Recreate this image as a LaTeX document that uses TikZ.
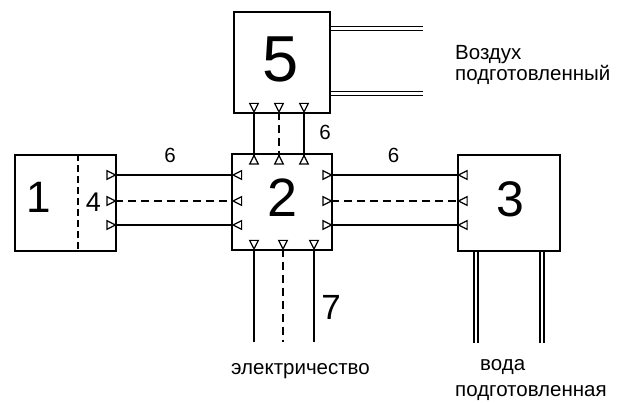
\documentclass[tikz,border=0pt]{standalone}
\usepackage{fontspec}
\setmainfont{Liberation Sans}
\usetikzlibrary{calc}
\begin{document}
\begin{tikzpicture}[x=1pt,y=-1pt,
  box/.style={draw, line width=1.8pt, inner sep=0pt},
  wire/.style={line width=1.8pt},
  dwire/.style={line width=1.8pt, dash pattern=on 8pt off 5pt},
  pipe/.style={double, double distance=2.4pt, line width=1.6pt},
  txt/.style={inner sep=0pt, font=\fontsize{20.5}{24}\selectfont},
  num/.style={inner sep=0pt, anchor=base},
  port/.pic={\draw[line width=1.2pt, fill=white, line join=miter] (0,0) -- (-8.5,4.3) -- (-8.5,-4.3) -- cycle;}]
\useasboundingbox[fill=white] (0,0) rectangle (619,403);

% units
\node[box, minimum width=101pt, minimum height=96pt] (b1) at (65.5,203) {};
\node[box, minimum width=100pt, minimum height=96pt] (b2) at (282,202) {};
\node[box, minimum width=102pt, minimum height=96pt] (b3) at (509,203) {};
\node[box, minimum width=96pt, minimum height=101pt] (b5) at (282,62.5) {};

% unit numbers
\node[num, font=\fontsize{44}{44}\selectfont] (n1) at (39,213) {1};
\node[num, font=\fontsize{54}{54}\selectfont] (n2) at (282.5,217) {2};
\node[num, font=\fontsize{50}{50}\selectfont] (n3) at (510,217) {3};
\node[num, font=\fontsize{27}{27}\selectfont] (n4) at (93.5,212) {4};
\node[num, font=\fontsize{65}{65}\selectfont] (n5) at (280.5,82) {5};

% partition inside unit 1
\draw[line width=1.4pt, dash pattern=on 7pt off 4pt] (b1.north-|78,0) -- (b1.south-|78,0);

% horizontal links 1-2 and 2-3
\foreach \y/\s in {175/wire,201/dwire,225/wire}{
  \draw[\s] ($(b1.east|-0,\y)+(-1.5,0)$) -- ($(b2.west|-0,\y)+(2,0)$);
  \draw[\s] ($(b2.east|-0,\y)+(-1.5,0)$) -- ($(b3.west|-0,\y)+(1.5,0)$);
  \pic at ($(b1.east|-0,\y)+(-1.5,0)$) {port};
  \pic[rotate=180] at ($(b2.west|-0,\y)+(2,0)$) {port};
  \pic at ($(b2.east|-0,\y)+(-1.5,0)$) {port};
  \pic[rotate=180] at ($(b3.west|-0,\y)+(1.5,0)$) {port};
}

% vertical links 5-2
\foreach \x/\s in {254/wire,279/dwire,304/wire}{
  \draw[\s] ($(b5.south-|\x,0)+(0,-2)$) -- ($(b2.north-|\x,0)+(0,2.5)$);
  \pic[rotate=-90] at ($(b5.south-|\x,0)+(0,-2)$) {port};
  \pic[rotate=90] at ($(b2.north-|\x,0)+(0,2.5)$) {port};
}

% power supply into unit 2
\foreach \x/\s/\n in {254/wire/1,283/dwire/2,314/wire/3}{
  \coordinate (e\n) at (\x,342);
  \draw[\s] ($(b2.south-|\x,0)+(0,-2)$) -- (e\n);
  \pic[rotate=-90] at ($(b2.south-|\x,0)+(0,-2)$) {port};
}

% air pipes from unit 5
\coordinate (a1) at (423,28.7);
\coordinate (a2) at (423,93.5);
\draw[pipe] (b5.east|-a1) -- (a1);
\draw[pipe] (b5.east|-a2) -- (a2);

% water pipes from unit 3
\coordinate (w1) at (475.7,343);
\coordinate (w2) at (542,343);
\draw[pipe] (b3.south-|w1) -- (w1);
\draw[pipe] (b3.south-|w2) -- (w2);

% link labels
\node[num, font=\fontsize{20.5}{20}\selectfont] (l1) at (170,163) {6};
\node[num, font=\fontsize{20.5}{20}\selectfont] (l2) at (325,140) {6};
\node[num, font=\fontsize{20.5}{20}\selectfont] (l3) at (393.5,163) {6};
\node[num, font=\fontsize{35}{35}\selectfont] (l4) at (331,320) {7};

% media labels
\node[txt, anchor=base west] (t1) at (455,60) {Воздух};
\node[txt, anchor=base west] (t2) at (455,81) {подготовленный};
\node[txt, anchor=base west] (t3) at (231,375) {электричество};
\node[txt, anchor=base west] (t4) at (480,371) {вода};
\node[txt, anchor=base west] (t5) at (455,397) {подготовленная};
\end{tikzpicture}
\end{document}
